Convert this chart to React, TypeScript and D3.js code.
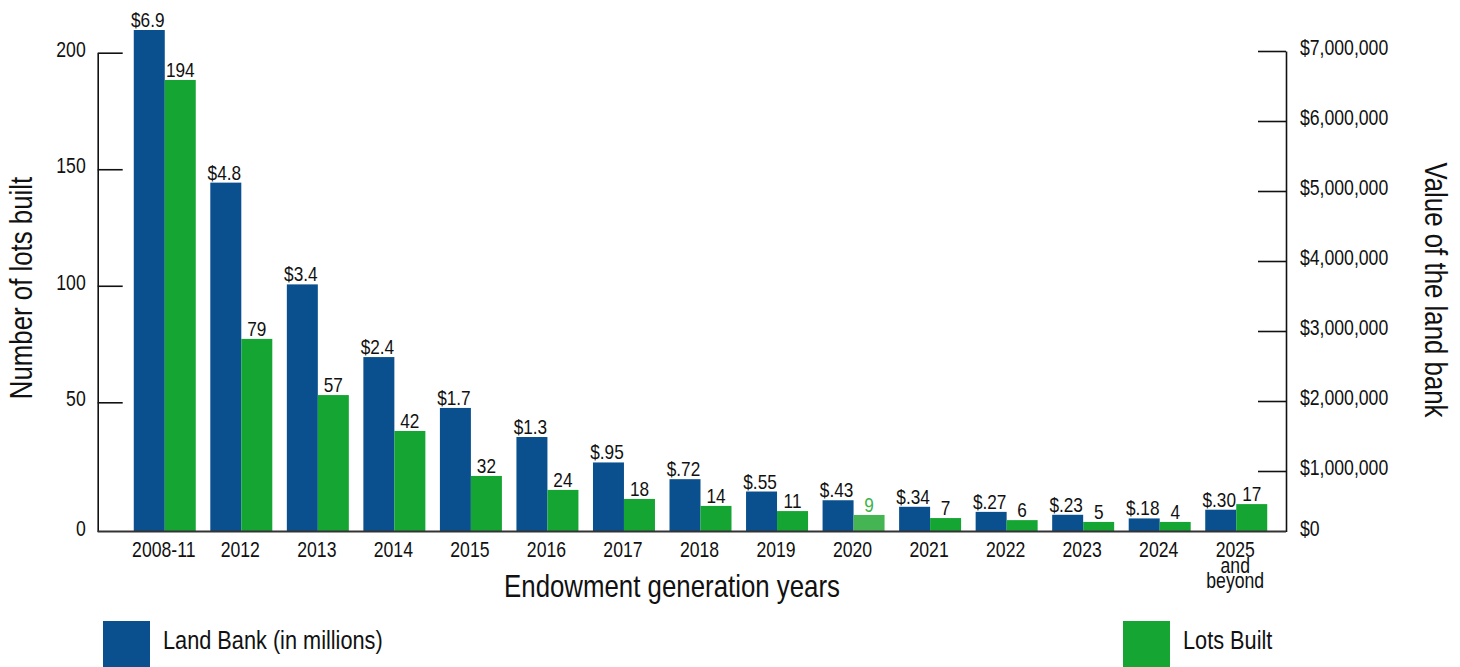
import { useEffect, useRef } from 'react';
import * as d3 from 'd3';

// --- Data ---
const categories = ['2008-11', '2012', '2013', '2014', '2015', '2016', '2017', '2018', '2019', '2020', '2021', '2022', '2023', '2024', '2025\nand\nbeyond'];
// land bank value, in millions of dollars (blue bars, label on top)
const landBankMillions = [6.9, 4.8, 3.4, 2.4, 1.7, 1.3, 0.95, 0.72, 0.55, 0.43, 0.34, 0.27, 0.23, 0.18, 0.30];
// lots built, as printed above the green bars
const lotsBuilt = [194, 79, 57, 42, 32, 24, 18, 14, 11, 9, 7, 6, 5, 4, 17];
// level the green bars actually reach on the left axis in the original artwork
const lotsAsDrawn = [188.3, 77.2, 53.1, 38.9, 21.5, 16.1, 12.6, 9.9, 7.9, 6.4, 5.2, 4.4, 3.7, 3.7, 10.6];
const lotsTicks = [0, 50, 100, 150, 200];
const bankTicks = [0, 1e6, 2e6, 3e6, 4e6, 5e6, 6e6, 7e6];
const highlighted = '2020';

const W = 1460;
const H = 667;
// no condensed face installed: use Liberation Sans and squeeze it horizontally
const FONT = '"Liberation Sans", Arial, sans-serif';
const SQUEEZE = 0.82;
const BLUE = '#0a508e';
const GREEN = '#14a532';
const GREEN_LIGHT = '#45b553';

// move a text's x/y into a transform so it can be narrowed without shifting it
const condense = (sel: d3.Selection<any, any, any, any>, k = SQUEEZE) => {
    sel.each(function () {
        const t = d3.select(this);
        const x = +(t.attr('x') || 0);
        const y = +(t.attr('y') || 0);
        t.attr('x', null).attr('y', null)
            .attr('transform', `translate(${x},${y}) scale(${k},1)`);
        t.selectAll('tspan').attr('x', 0);
    });
};

const App = () => {
    const svgRef = useRef<SVGSVGElement>(null);

    useEffect(() => {
        if (!svgRef.current) return;
        const svg = d3.select(svgRef.current);
        svg.selectAll('*').remove();

        const baseY = 531.5;
        const leftX = 97.7;
        const rightX = 1286;

        // --- Scales ---
        const x = d3.scaleBand<string>()
            .domain(categories)
            .range([126.5, 1274.5])
            .paddingInner(0.19)
            .paddingOuter(0.095);
        const half = x.bandwidth() / 2;

        // the printed axes are not evenly spaced at the bottom, hence the 3-stop domains
        const yLots = d3.scaleLinear().domain([0, 50, 200]).range([baseY, 402.3, 52.7]);
        const yBankAxis = d3.scaleLinear().domain([0, 1e6, 7e6]).range([baseY, 471, 51]);
        const yBankBar = d3.scaleLinear().domain([0, 6.9]).range([baseY, 30]);

        const fmtBank = (v: number) => (v >= 1 ? `$${v.toFixed(1)}` : `$${v.toFixed(2).slice(1)}`);

        // --- Bars ---
        const g = svg.append('g');
        categories.forEach((c, i) => {
            const x0 = x(c)!;
            const isHi = c === highlighted;

            const by = yBankBar(landBankMillions[i]);
            g.append('rect')
                .attr('x', x0).attr('y', by)
                .attr('width', half).attr('height', baseY - by)
                .attr('fill', BLUE);
            g.append('text')
                .attr('class', 'lbl')
                .attr('x', x0 + half / 2 - 1.5).attr('y', by - 3)
                .attr('text-anchor', 'middle')
                .attr('font-size', 21)
                .attr('fill', '#111')
                .text(fmtBank(landBankMillions[i]));

            const gy = yLots(lotsAsDrawn[i]);
            g.append('rect')
                .attr('x', x0 + half).attr('y', gy)
                .attr('width', half).attr('height', baseY - gy)
                .attr('fill', isHi ? GREEN_LIGHT : GREEN);
            g.append('text')
                .attr('class', 'lbl')
                .attr('x', x0 + half * 1.5).attr('y', gy - 3)
                .attr('text-anchor', 'middle')
                .attr('font-size', 21)
                .attr('fill', isHi ? '#3db34a' : '#111')
                .text(lotsBuilt[i]);

            // category label (may be several lines)
            const t = g.append('text')
                .attr('class', 'lbl')
                .attr('x', x0 + half - 1).attr('y', 557)
                .attr('text-anchor', 'middle')
                .attr('font-size', 21.5)
                .attr('fill', '#111');
            c.split('\n').forEach((line, k) => {
                t.append('tspan')
                    .attr('x', 0)
                    .attr('dy', k === 0 ? 0 : 15.5)
                    .text(line);
            });
        });
        condense(g.selectAll('text.lbl'));

        // --- Axes ---
        const leftAxis = svg.append('g')
            .attr('transform', `translate(${leftX},0)`)
            .call(d3.axisLeft(yLots).tickValues(lotsTicks).tickSizeInner(-25).tickSizeOuter(0).tickPadding(12));
        const rightAxis = svg.append('g')
            .attr('transform', `translate(${rightX},0)`)
            .call(d3.axisRight(yBankAxis).tickValues(bankTicks).tickFormat(d3.format('$,.0f') as any)
                .tickSizeInner(-28).tickSizeOuter(0).tickPadding(14));

        [leftAxis, rightAxis].forEach(ax => {
            ax.attr('font-family', null).attr('font-size', null);
            ax.select('.domain').attr('stroke', '#111').attr('stroke-width', 1.6);
            ax.selectAll('.tick line').attr('stroke', '#111').attr('stroke-width', 1.6);
            const txt = ax.selectAll('.tick text')
                .attr('font-size', 21.5)
                .attr('fill', '#111')
                .attr('dy', null)
                .attr('y', 3.5);
            condense(txt as any);
            // no tick mark at zero (it sits on the baseline)
            ax.selectAll('.tick').filter((d: any) => d === 0).select('line').remove();
        });

        // baseline
        svg.append('line')
            .attr('x1', leftX).attr('x2', rightX)
            .attr('y1', baseY).attr('y2', baseY)
            .attr('stroke', '#333').attr('stroke-width', 2);

        // --- Titles ---
        svg.append('text')
            .attr('text-anchor', 'middle')
            .attr('font-size', 31.5)
            .attr('fill', '#111')
            .attr('transform', `translate(32,288) rotate(-90) scale(${SQUEEZE},1)`)
            .text('Number of lots built');
        svg.append('text')
            .attr('text-anchor', 'middle')
            .attr('font-size', 31.5)
            .attr('fill', '#111')
            .attr('transform', `translate(1425,290) rotate(90) scale(${SQUEEZE},1)`)
            .text('Value of the land bank');
        const xTitle = svg.append('text')
            .attr('x', 672).attr('y', 597)
            .attr('text-anchor', 'middle')
            .attr('font-size', 31.5)
            .attr('fill', '#111')
            .text('Endowment generation years');
        condense(xTitle);

        // --- Legend ---
        const legend = [
            { label: 'Land Bank (in millions)', color: BLUE, x: 103 },
            { label: 'Lots Built', color: GREEN, x: 1123 },
        ];
        legend.forEach(l => {
            svg.append('rect')
                .attr('x', l.x).attr('y', 621)
                .attr('width', 47).attr('height', 46)
                .attr('fill', l.color);
            const lt = svg.append('text')
                .attr('x', l.x + 60).attr('y', 649)
                .attr('font-size', 26.5)
                .attr('fill', '#111')
                .text(l.label);
            condense(lt);
        });
    }, []);

    return (
        <svg
            ref={svgRef}
            width={W}
            height={H}
            viewBox={`0 0 ${W} ${H}`}
            style={{ position: 'absolute', left: 0, top: 0, background: '#fff', fontFamily: FONT }}
        />
    );
};

export default App;
